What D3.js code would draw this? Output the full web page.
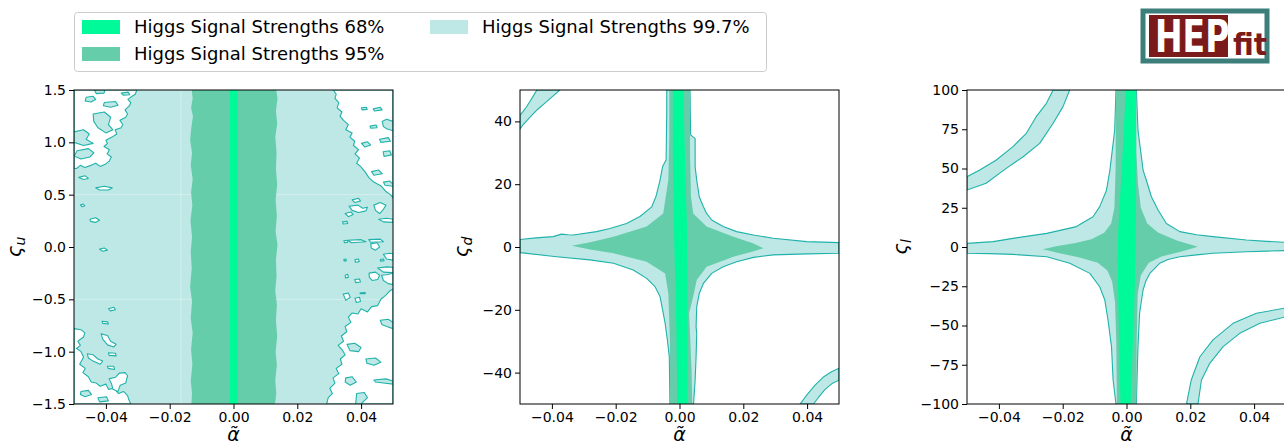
<!DOCTYPE html>
<html>
<head>
<meta charset="utf-8">
<script src="https://cdn.jsdelivr.net/npm/d3@7"></script>
<style>
  body { margin: 0; background: #fff; }
  svg { display: block; }
  text { font-family: "DejaVu Sans", sans-serif; }
</style>
</head>
<body>
<svg id="chart" width="1284" height="447"></svg>
<script>
// ---- axes ----
const alphaDomain = [-0.05, 0.05];
const alphaTicks = [-0.04, -0.02, 0, 0.02, 0.04];
const zetaUDomain = [-1.5, 1.5];
const zetaUTicks = [-1.5, -1.0, -0.5, 0, 0.5, 1.0, 1.5];
const zetaDDomain = [-50, 50];
const zetaDTicks = [-40, -20, 0, 20, 40];
const zetaLDomain = [-100, 100];
const zetaLTicks = [-100, -75, -50, -25, 0, 25, 50, 75, 100];

// ---- confidence levels ----
const levelNames = ["Higgs Signal Strengths 68%", "Higgs Signal Strengths 95%", "Higgs Signal Strengths 99.7%"];
const levelColors = ["#00FA9A", "#66CDAA", "#BDE8E5"];
const lineColor = "#20B2AA";

// ---- (alpha, zeta_u) regions ----
const u68 = [[-0.0011, 1.5], [0.0013, 1.5], [0.0013, -1.5], [-0.0011, -1.5]];
const u95 = [
  [-0.0131, 1.5], [-0.0128, 1.42], [-0.0133, 1.33], [-0.0127, 1.25], [-0.0132, 1.15], [-0.0136, 1.02],
  [-0.0130, 0.9], [-0.0134, 0.78], [-0.0128, 0.65], [-0.0133, 0.52], [-0.0129, 0.4], [-0.0135, 0.25],
  [-0.0130, 0.1], [-0.0134, -0.05], [-0.0131, -0.2], [-0.0136, -0.38], [-0.0130, -0.52], [-0.0134, -0.68],
  [-0.0128, -0.82], [-0.0133, -0.98], [-0.0129, -1.12], [-0.0134, -1.28], [-0.0130, -1.4], [-0.0132, -1.5],
  [0.0130, -1.5], [0.0134, -1.4], [0.0131, -1.27], [0.0136, -1.13], [0.0132, -1.0], [0.0137, -0.85],
  [0.0133, -0.7], [0.0136, -0.55], [0.0131, -0.42], [0.0135, -0.28], [0.0133, -0.12], [0.0138, 0.02],
  [0.0132, 0.15], [0.0136, 0.3], [0.0132, 0.45], [0.0137, 0.6], [0.0133, 0.75], [0.0135, 0.9],
  [0.0131, 1.05], [0.0137, 1.18], [0.0133, 1.3], [0.0138, 1.42], [0.0134, 1.5]
];
// areas outside the 99.7% level
const uHoles = [
  [[-0.05, 1.5], [-0.0303, 1.5], [-0.0308, 1.46], [-0.0318, 1.44], [-0.0331, 1.41], [-0.0322, 1.38], [-0.0326, 1.35],
   [-0.0340, 1.31], [-0.0332, 1.27], [-0.0338, 1.24], [-0.0356, 1.21], [-0.0347, 1.17], [-0.0352, 1.14], [-0.0371, 1.12],
   [-0.0366, 1.08], [-0.0381, 1.05], [-0.0400, 1.02], [-0.0395, 0.99], [-0.0406, 0.96], [-0.0389, 0.93], [-0.0396, 0.89],
   [-0.0383, 0.86], [-0.0390, 0.82], [-0.0402, 0.79], [-0.0418, 0.77], [-0.0432, 0.80], [-0.0447, 0.78], [-0.0466, 0.76],
   [-0.0480, 0.78], [-0.0492, 0.75], [-0.05, 0.75]],
  [[-0.0485, 0.665], [-0.0465, 0.68], [-0.0455, 0.655], [-0.0470, 0.645]],
  [[-0.0432, 0.565], [-0.0405, 0.58], [-0.0380, 0.565], [-0.0392, 0.545], [-0.0420, 0.545]],
  [[-0.0450, 0.265], [-0.0432, 0.28], [-0.0420, 0.255], [-0.0433, 0.235], [-0.0448, 0.245]],
  [[-0.0480, 0.40], [-0.0472, 0.41], [-0.0466, 0.395], [-0.0474, 0.385]],
  [[-0.0420, -0.02], [-0.0405, -0.01], [-0.0395, -0.03], [-0.0410, -0.04]],
  [[-0.0392, -0.59], [-0.0375, -0.575], [-0.0370, -0.60], [-0.0386, -0.61]],
  [[-0.0415, -0.83], [-0.0395, -0.845], [-0.0385, -0.90], [-0.0368, -0.93], [-0.0375, -0.955], [-0.0395, -0.935], [-0.0410, -0.88]],
  [[-0.0412, -0.71], [-0.0395, -0.715], [-0.0392, -0.735], [-0.0410, -0.73]],
  [[-0.0458, -1.02], [-0.0440, -1.03], [-0.0425, -1.07], [-0.0410, -1.09], [-0.0418, -1.12], [-0.0440, -1.09], [-0.0455, -1.06]],
  [[-0.0392, -1.01], [-0.0370, -1.015], [-0.0368, -1.04], [-0.0390, -1.035]],
  [[-0.0395, -1.14], [-0.0375, -1.14], [-0.0373, -1.17], [-0.0393, -1.16]],
  [[-0.05, -0.78], [-0.0478, -0.79], [-0.0466, -0.82], [-0.0470, -0.86], [-0.0488, -0.90], [-0.0480, -0.94], [-0.0492, -0.97],
   [-0.0478, -1.0], [-0.0470, -1.05], [-0.0482, -1.12], [-0.0465, -1.16], [-0.0472, -1.20], [-0.0455, -1.24], [-0.0446, -1.29],
   [-0.0430, -1.30], [-0.0418, -1.33], [-0.0400, -1.31], [-0.0392, -1.36], [-0.0375, -1.35], [-0.0360, -1.40], [-0.0345, -1.38],
   [-0.0332, -1.42], [-0.0328, -1.46], [-0.0322, -1.5], [-0.05, -1.5]],
  [[-0.0390, -1.26], [-0.0370, -1.245], [-0.0358, -1.205], [-0.0340, -1.20], [-0.0332, -1.23], [-0.0338, -1.30], [-0.0355, -1.32],
   [-0.0362, -1.38], [-0.0378, -1.36], [-0.0382, -1.31]],
  [[0.0313, 1.5], [0.05, 1.5], [0.05, 0.47], [0.0492, 0.50], [0.0478, 0.53], [0.0464, 0.58], [0.0440, 0.62], [0.0425, 0.66],
   [0.0412, 0.72], [0.0398, 0.77], [0.0386, 0.80], [0.0395, 0.85], [0.0381, 0.89], [0.0392, 0.93], [0.0376, 0.97], [0.0380, 1.01],
   [0.0365, 1.05], [0.0372, 1.09], [0.0352, 1.12], [0.0360, 1.17], [0.0345, 1.21], [0.0334, 1.25], [0.0340, 1.29], [0.0325, 1.33],
   [0.0330, 1.38], [0.0318, 1.42], [0.0322, 1.46]],
  [[0.0372, 0.45], [0.0392, 0.465], [0.0398, 0.44], [0.0380, 0.425]],
  [[0.0362, 0.39], [0.0390, 0.40], [0.0405, 0.37], [0.0420, 0.38], [0.0415, 0.345], [0.0392, 0.33], [0.0372, 0.35]],
  [[0.0350, 0.32], [0.0368, 0.335], [0.0375, 0.31], [0.0360, 0.29]],
  [[0.0440, 0.40], [0.0460, 0.425], [0.0478, 0.40], [0.0470, 0.36], [0.0458, 0.32], [0.0445, 0.35]],
  [[0.0455, 0.265], [0.0480, 0.275], [0.05, 0.265], [0.05, 0.235], [0.0470, 0.24]],
  [[0.0342, 0.24], [0.0356, 0.245], [0.0358, 0.225], [0.0344, 0.22]],
  [[0.0424, 0.07], [0.0460, 0.075], [0.0470, 0.05], [0.0430, 0.045]],
  [[0.0358, 0.065], [0.0400, 0.07], [0.0415, 0.05], [0.0370, 0.04]],
  [[0.0430, 0.03], [0.0450, 0.04], [0.0458, 0.0], [0.0445, -0.03], [0.0432, -0.01]],
  [[0.0470, -0.07], [0.0490, -0.06], [0.05, -0.065], [0.05, -0.125], [0.0480, -0.115]],
  [[0.0346, 0.06], [0.0356, 0.065], [0.0358, 0.045], [0.0348, 0.042]],
  [[0.0452, -0.20], [0.0480, -0.19], [0.05, -0.195], [0.05, -0.245], [0.0470, -0.24]],
  [[0.0425, -0.25], [0.0445, -0.24], [0.0458, -0.27], [0.0452, -0.31], [0.0435, -0.32], [0.0426, -0.29]],
  [[0.0464, -0.27], [0.0480, -0.265], [0.05, -0.25], [0.05, -0.36], [0.0485, -0.35], [0.0470, -0.32]],
  [[0.0380, -0.31], [0.0395, -0.305], [0.0398, -0.335], [0.0383, -0.34]],
  [[0.0350, -0.27], [0.0358, -0.26], [0.0360, -0.29], [0.0351, -0.295]],
  [[0.0344, -0.45], [0.0360, -0.44], [0.0366, -0.48], [0.0352, -0.51]],
  [[0.0381, -0.49], [0.0395, -0.48], [0.0398, -0.52], [0.0385, -0.53]],
  [[0.0464, -0.49], [0.0480, -0.485], [0.0485, -0.51], [0.0468, -0.515]],
  [[0.0397, -0.437], [0.0413, -0.435], [0.0413, -0.445], [0.0397, -0.447]],
  [[0.0346, -0.12], [0.0352, -0.115], [0.0354, -0.13], [0.0347, -0.135]],
  [[0.0381, -0.12], [0.0392, -0.115], [0.0394, -0.14], [0.0382, -0.145]],
  [[0.0460, -0.12], [0.0470, -0.115], [0.0472, -0.13], [0.0461, -0.135]],
  [[0.0292, -1.5], [0.0297, -1.44], [0.0310, -1.40], [0.0302, -1.35], [0.0318, -1.30], [0.0312, -1.25], [0.0330, -1.21],
   [0.0322, -1.16], [0.0340, -1.12], [0.0335, -1.07], [0.0350, -1.03], [0.0340, -0.98], [0.0328, -0.94], [0.0345, -0.90],
   [0.0338, -0.85], [0.0355, -0.81], [0.0350, -0.76], [0.0368, -0.72], [0.0360, -0.67], [0.0372, -0.63], [0.0390, -0.64],
   [0.0400, -0.59], [0.0420, -0.62], [0.0433, -0.57], [0.0452, -0.56], [0.0462, -0.50], [0.0478, -0.46], [0.0490, -0.42],
   [0.05, -0.40], [0.05, -1.5]]
];
// pockets inside the outer areas that are back within 99.7%
const uIslands = [
  [[-0.0462, 1.43], [-0.0440, 1.44], [-0.0432, 1.41], [-0.0447, 1.385], [-0.0465, 1.395]],
  [[-0.0405, 1.38], [-0.0370, 1.39], [-0.0362, 1.355], [-0.0385, 1.335], [-0.0408, 1.35]],
  [[-0.0440, 1.27], [-0.0405, 1.29], [-0.0385, 1.24], [-0.0392, 1.17], [-0.0378, 1.12], [-0.0400, 1.09], [-0.0425, 1.14], [-0.0438, 1.20]],
  [[-0.05, 1.10], [-0.0470, 1.12], [-0.0452, 1.08], [-0.0462, 1.03], [-0.0440, 0.99], [-0.0470, 0.97], [-0.05, 1.0]],
  [[-0.0490, 0.92], [-0.0455, 0.94], [-0.0438, 0.90], [-0.0450, 0.86], [-0.0478, 0.84], [-0.05, 0.87]],
  [[-0.0436, 1.5], [-0.0403, 1.5], [-0.0406, 1.47], [-0.0430, 1.465]],
  [[-0.0352, 1.47], [-0.0330, 1.48], [-0.0325, 1.455], [-0.0345, 1.45]],
  [[-0.0478, -1.38], [-0.0455, -1.37], [-0.0445, -1.41], [-0.0465, -1.43], [-0.0480, -1.41]],
  [[-0.0425, -1.44], [-0.0398, -1.43], [-0.0392, -1.47], [-0.0420, -1.48]],
  [[0.0401, 1.33], [0.0417, 1.335], [0.0419, 1.315], [0.0403, 1.31]],
  [[0.0438, 1.32], [0.0460, 1.335], [0.0466, 1.31], [0.0442, 1.30]],
  [[0.0428, 1.155], [0.0447, 1.165], [0.0450, 1.14], [0.0430, 1.135]],
  [[0.0466, 1.2], [0.0480, 1.22], [0.05, 1.2], [0.05, 1.11], [0.0480, 1.13], [0.0470, 1.15]],
  [[0.0458, 1.03], [0.0485, 1.045], [0.0492, 1.01], [0.0462, 1.0]],
  [[0.0401, 0.99], [0.0420, 1.005], [0.0430, 0.975], [0.0412, 0.955]],
  [[0.0469, 0.91], [0.0490, 0.92], [0.0495, 0.88], [0.0472, 0.865]],
  [[0.0433, 0.72], [0.0455, 0.735], [0.0466, 0.70], [0.0440, 0.685]],
  [[0.0470, 0.62], [0.0490, 0.63], [0.05, 0.60], [0.05, 0.58], [0.0475, 0.59]],
  [[0.0356, -0.93], [0.0380, -0.92], [0.0400, -0.96], [0.0392, -1.0], [0.0365, -0.99]],
  [[0.0415, -1.07], [0.0445, -1.06], [0.0462, -1.10], [0.0440, -1.13], [0.0418, -1.11]],
  [[0.0352, -1.25], [0.0372, -1.24], [0.0385, -1.29], [0.0366, -1.32], [0.0350, -1.29]],
  [[0.0386, -1.40], [0.0410, -1.39], [0.0420, -1.44], [0.0400, -1.5], [0.0383, -1.5]],
  [[0.0440, -1.27], [0.0478, -1.26], [0.05, -1.28], [0.05, -1.31], [0.0470, -1.30], [0.0445, -1.29]],
  [[0.0460, -0.70], [0.0485, -0.69], [0.05, -0.72], [0.05, -0.78], [0.0480, -0.76], [0.0465, -0.74]]
];
const uSeamAlpha = [-0.0165];
const uSeamZeta = [-0.5, 0.5];

// ---- (alpha, zeta_d) regions ----
const d68 = [[-0.0021, 50], [0.0012, 50], [0.0018, 25], [0.0024, 5], [0.0025, -15], [0.0025, -50],
  [-0.0007, -50], [-0.0010, -25], [-0.0015, -5], [-0.0018, 10], [-0.0021, 30]];
const d95 = [[-0.0032, 50], [0.0033, 50], [0.0033, 30], [0.0035, 21], [0.0036, 16], [0.0043, 10.7], [0.0085, 6.5],
  [0.0169, 3.3], [0.0230, 1.2], [0.0263, -0.4], [0.0230, -1.4], [0.0169, -3.1], [0.0085, -6.3], [0.0054, -10.5],
  [0.0043, -15.8], [0.0030, -21.1], [0.0033, -27.5], [0.0038, -40], [0.0040, -50], [-0.0030, -50], [-0.0030, -30],
  [-0.0035, -14.8], [-0.0045, -8.4], [-0.0103, -4.7], [-0.0207, -2.0], [-0.0280, -0.8], [-0.0338, 0.4], [-0.0280, 1.5],
  [-0.0207, 3.3], [-0.0103, 6.5], [-0.0051, 10.7], [-0.0035, 21.3], [-0.0032, 35]];
const d997 = [
  [-0.0040, 50], [0.0033, 50], [0.0034, 42], [0.0035, 35.7], [0.0049, 34.5], [0.0049, 25.6], [0.0054, 21.3], [0.0062, 16],
  [0.0075, 12.8], [0.0085, 10.7], [0.0101, 8.6], [0.0137, 6.5], [0.0179, 4.9], [0.0232, 3.8], [0.0294, 2.8], [0.0399, 1.7], [0.05, 1.4],
  [0.05, -2.0], [0.0399, -2.2], [0.0294, -2.5], [0.0232, -3.3], [0.0179, -4.7], [0.0137, -6.3], [0.0101, -8.4], [0.0075, -11.6],
  [0.0062, -14.8], [0.0054, -19], [0.0052, -25.4], [0.0054, -27.5], [0.0052, -35], [0.0049, -42.4], [0.0044, -50],
  [-0.0030, -50], [-0.0032, -35], [-0.0038, -29.6], [-0.0045, -24.3], [-0.0053, -20], [-0.0061, -15.8], [-0.0077, -12.6],
  [-0.0103, -10], [-0.0145, -7.3], [-0.0207, -5.2], [-0.0281, -4.1], [-0.0385, -3.1], [-0.05, -1.8],
  [-0.05, 2.4], [-0.0450, 2.9], [-0.0396, 3.3], [-0.0370, 4.1], [-0.0350, 3.9], [-0.0333, 3.8], [-0.0260, 4.9], [-0.0218, 5.9],
  [-0.0166, 7.5], [-0.0124, 9.7], [-0.0087, 12.8], [-0.0074, 16], [-0.0061, 21.3], [-0.0053, 25.6], [-0.0042, 27.7],
  [-0.0041, 35], [-0.0040, 43]
];
const d997CornerTL = [[-0.05, 42], [-0.0490, 43.2], [-0.0480, 44.6], [-0.0470, 46.2], [-0.0460, 47.8], [-0.0447, 50],
  [-0.0375, 50], [-0.0395, 48.2], [-0.0420, 46], [-0.0445, 43.8], [-0.0470, 41.2], [-0.0490, 39], [-0.05, 37.5]];
const d997CornerBR = [[0.0378, -50], [0.0400, -47], [0.0425, -44], [0.0450, -41.5], [0.0475, -39.8], [0.05, -38.6],
  [0.05, -42.4], [0.0478, -43.5], [0.0455, -45.5], [0.0435, -48], [0.0420, -50]];

// ---- (alpha, zeta_l) regions ----
const l68 = [[-0.0002, 100], [0.0029, 100], [0.0030, 50], [0.0029, 0], [0.0024, -40], [0.0013, -100],
  [-0.0019, -100], [-0.0024, -50], [-0.0028, -10], [-0.0026, 10], [-0.0015, 50]];
const l95 = [[-0.0033, 100], [0.0031, 100], [0.0031, 60], [0.0036, 40], [0.0045, 25], [0.0065, 15], [0.0100, 9],
  [0.0160, 4], [0.0224, 0.2], [0.0170, -3], [0.0110, -6], [0.0070, -10], [0.0045, -18], [0.0035, -30], [0.0032, -60],
  [0.0031, -100], [-0.0030, -100], [-0.0032, -60], [-0.0036, -35], [-0.0045, -22], [-0.0060, -15], [-0.0090, -10],
  [-0.0150, -6.5], [-0.0210, -4], [-0.0262, -1.5], [-0.0220, 0.5], [-0.0160, 2.5], [-0.0110, 5], [-0.0070, 9],
  [-0.0048, 15], [-0.0038, 25], [-0.0034, 50]];
const l997 = [
  [-0.0033, 100], [0.0031, 100], [0.0036, 74.5], [0.0052, 49], [0.0062, 42.7], [0.0078, 32], [0.0099, 23.6], [0.0125, 15],
  [0.0167, 9.8], [0.0220, 7.8], [0.0271, 6.6], [0.0376, 4.5], [0.0440, 3.6], [0.05, 3.0],
  [0.05, -2.3], [0.0440, -2.6], [0.0376, -3.0], [0.0271, -4.0], [0.0220, -5.0], [0.0167, -6.2], [0.0130, -8.0], [0.0104, -10.4],
  [0.0073, -16.8], [0.0060, -22], [0.0052, -27.4], [0.0041, -42.2], [0.0036, -63.5], [0.0033, -84.7], [0.0031, -100],
  [-0.0033, -100], [-0.0042, -84.7], [-0.0047, -63.5], [-0.0058, -46.5], [-0.0068, -33.8], [-0.0084, -25.3], [-0.0115, -16.8],
  [-0.0178, -10.4], [-0.0250, -6.2], [-0.0356, -4.7], [-0.0430, -4.2], [-0.05, -4.0],
  [-0.05, 2.3], [-0.0418, 3.4], [-0.0356, 5.5], [-0.0250, 8.7], [-0.0157, 13], [-0.0105, 19.3], [-0.0084, 25.7],
  [-0.0063, 36], [-0.0052, 49], [-0.0037, 74.5]
];
const l997CornerTL = [[-0.05, 44.8], [-0.046, 49], [-0.0408, 55.4], [-0.0356, 63.9], [-0.0314, 72.4], [-0.0283, 83],
  [-0.0251, 91.5], [-0.023, 100], [-0.0178, 100], [-0.0199, 89.4], [-0.023, 78.8], [-0.0272, 66], [-0.0324, 57.5],
  [-0.0377, 50.1], [-0.044, 40.6], [-0.05, 36.3]];
const l997CornerBR = [[0.0188, -100], [0.0203, -84.7], [0.023, -69.9], [0.0271, -59.2], [0.0334, -48.6], [0.0407, -42.2],
  [0.05, -38.8], [0.05, -44.4], [0.0418, -48.6], [0.0355, -55], [0.0303, -63.5], [0.0261, -74.1], [0.0235, -84.7], [0.0224, -100]];

// ---- drawing ----
const svg = d3.select("#chart");
const plotTop = 90, plotH = 314, plotW = 319;

function drawPanel(cfg, idx) {
  const x = d3.scaleLinear().domain(alphaDomain).range([cfg.left, cfg.left + plotW]);
  const y = d3.scaleLinear().domain(cfg.yDomain).range([plotTop + plotH, plotTop]);
  const clipId = "clip" + idx;
  svg.append("clipPath").attr("id", clipId).append("rect")
    .attr("x", cfg.left).attr("y", plotTop).attr("width", plotW).attr("height", plotH);
  const g = svg.append("g").attr("clip-path", `url(#${clipId})`);
  const line = d3.line().x(d => x(d[0])).y(d => y(d[1])).curve(d3.curveLinearClosed);

  cfg.layers.forEach(layer => {
    g.append("g").selectAll("path").data(layer.polys).join("path")
      .attr("d", line)
      .attr("fill", layer.fill)
      .attr("stroke", layer.stroke || "none")
      .attr("stroke-width", layer.stroke ? 1.1 : 0)
      .attr("stroke-linejoin", "round");
  });
  if (cfg.seams) {
    g.selectAll(".seamx").data(cfg.seams.a).join("line")
      .attr("x1", d => x(d)).attr("x2", d => x(d))
      .attr("y1", plotTop).attr("y2", plotTop + plotH)
      .attr("stroke", "#fff").attr("stroke-opacity", 0.35).attr("stroke-width", 1);
    g.selectAll(".seamy").data(cfg.seams.z).join("line")
      .attr("x1", cfg.left).attr("x2", cfg.left + plotW)
      .attr("y1", d => y(d)).attr("y2", d => y(d))
      .attr("stroke", "#fff").attr("stroke-opacity", 0.35).attr("stroke-width", 1);
  }
  if (cfg.overlay) cfg.overlay(g, x, y, line);

  // axes
  const xa = svg.append("g").attr("transform", `translate(0,${plotTop + plotH})`)
    .call(d3.axisBottom(x).tickValues(alphaTicks).tickFormat(d3.format(".2f")).tickSize(5).tickPadding(3).tickSizeOuter(0));
  const ya = svg.append("g").attr("transform", `translate(${cfg.left},0)`)
    .call(d3.axisLeft(y).tickValues(cfg.yTicks).tickFormat(d3.format(cfg.yFormat)).tickSize(5).tickPadding(3).tickSizeOuter(0));
  [xa, ya].forEach(a => {
    a.selectAll("text").attr("font-size", 14).attr("fill", "#000").attr("font-family", "DejaVu Sans");
    a.selectAll("line").attr("stroke", "#000").attr("stroke-width", 1);
    a.select(".domain").remove();
  });
  svg.append("rect").attr("x", cfg.left).attr("y", plotTop).attr("width", plotW).attr("height", plotH)
    .attr("fill", "none").attr("stroke", "#000").attr("stroke-width", 1);

  // axis titles
  svg.append("text")
    .attr("x", cfg.left + plotW / 2).attr("y", 441)
    .attr("text-anchor", "middle").attr("font-size", 19).attr("font-style", "italic")
    .text("\u03B1\u0303");
  const yl = svg.append("text")
    .attr("transform", `translate(${cfg.labelX},${plotTop + plotH / 2}) rotate(-90)`)
    .attr("text-anchor", "middle").attr("font-size", 20).attr("font-style", "italic");
  yl.append("tspan").text("\u03C2");
  yl.append("tspan").attr("font-size", 14).attr("dy", 4).text(cfg.sub);
}

drawPanel({
  left: 74, yDomain: zetaUDomain, yTicks: zetaUTicks, yFormat: ".1f", labelX: 21, sub: "u",
  layers: [
    { polys: [[[alphaDomain[0], zetaUDomain[1]], [alphaDomain[1], zetaUDomain[1]], [alphaDomain[1], zetaUDomain[0]], [alphaDomain[0], zetaUDomain[0]]]], fill: levelColors[2] },
  ],
  seams: { a: uSeamAlpha, z: uSeamZeta },
  overlay: (g, x, y, line) => {
    g.append("g").selectAll("path").data(uHoles).join("path").attr("d", line)
      .attr("fill", "#fff").attr("stroke", lineColor).attr("stroke-width", 1.1).attr("stroke-linejoin", "round");
    g.append("g").selectAll("path").data(uIslands).join("path").attr("d", line)
      .attr("fill", levelColors[2]).attr("stroke", lineColor).attr("stroke-width", 1.1).attr("stroke-linejoin", "round");
    g.append("path").datum(u95).attr("d", line).attr("fill", levelColors[1]);
    g.append("path").datum(u68).attr("d", line).attr("fill", levelColors[0]);
  }
}, 0);

drawPanel({
  left: 520, yDomain: zetaDDomain, yTicks: zetaDTicks, yFormat: "d", labelX: 468, sub: "d",
  layers: [
    { polys: [d997, d997CornerTL, d997CornerBR], fill: levelColors[2], stroke: lineColor },
    { polys: [d95], fill: levelColors[1] },
    { polys: [d68], fill: levelColors[0] }
  ]
}, 1);

drawPanel({
  left: 967, yDomain: zetaLDomain, yTicks: zetaLTicks, yFormat: "d", labelX: 907, sub: "l",
  layers: [
    { polys: [l997, l997CornerTL, l997CornerBR], fill: levelColors[2], stroke: lineColor },
    { polys: [l95], fill: levelColors[1] },
    { polys: [l68], fill: levelColors[0] }
  ]
}, 2);

// ---- legend ----
const legend = svg.append("g");
legend.append("rect").attr("x", 74.5).attr("y", 12.5).attr("width", 692).attr("height", 59).attr("rx", 3)
  .attr("fill", "#fff").attr("fill-opacity", 0.8).attr("stroke", "#ccc").attr("stroke-width", 1);
const legendPos = [[82, 20], [82, 47], [430, 20]];
levelNames.forEach((name, i) => {
  const [lx, ly] = legendPos[i];
  legend.append("rect").attr("x", lx).attr("y", ly).attr("width", 38).attr("height", 14).attr("fill", levelColors[i]);
  legend.append("text").attr("x", lx + 52).attr("y", ly + 13).attr("font-size", 18).attr("fill", "#000").text(name);
});

// ---- logo ----
const logo = svg.append("g");
logo.append("rect").attr("x", 1143).attr("y", 11).attr("width", 124).attr("height", 50)
  .attr("fill", "#fff").attr("stroke", "#3C7F7A").attr("stroke-width", 5);
logo.append("rect").attr("x", 1149).attr("y", 15).attr("width", 79).attr("height", 42).attr("fill", "#7A1A1A");
logo.append("text").attr("transform", "translate(1155,52) scale(1,1.35)")
  .attr("font-family", "Liberation Sans").attr("font-weight", "bold")
  .attr("font-size", 33).attr("fill", "#fff").text("HEP");
logo.append("text").attr("transform", "translate(1233,55) scale(1,1.1)")
  .attr("font-family", "Liberation Sans").attr("font-weight", "bold")
  .attr("font-size", 28).attr("fill", "#7A1A1A").text("fit");
</script>
</body>
</html>
